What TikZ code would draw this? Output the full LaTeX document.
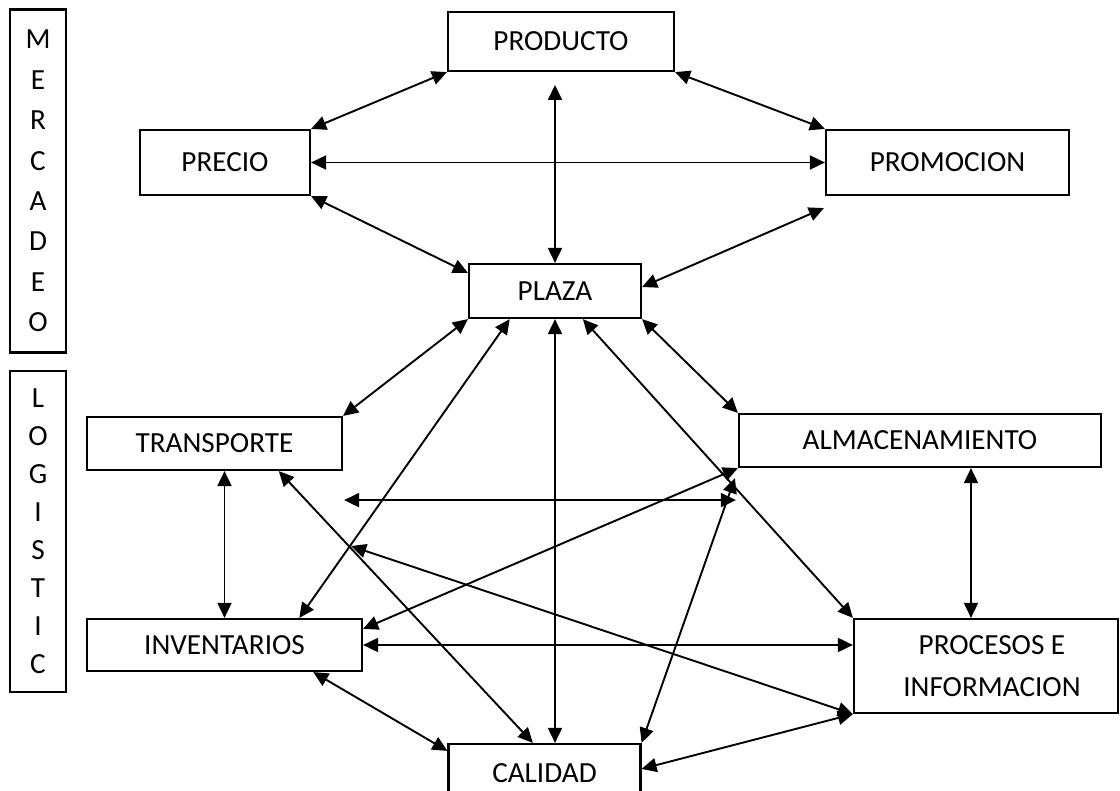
\documentclass[tikz,border=0pt]{standalone}
\usepackage{fontspec}
\setmainfont{Carlito}
\usetikzlibrary{arrows.meta, calc}

\begin{document}
\begin{tikzpicture}[
    x=0.5pt, y=-0.5pt,
    box/.style={rectangle, draw, line width=1.1pt, align=center, inner sep=0pt},
    side/.style={rectangle, draw, line width=1.1pt, align=center, inner sep=0pt, minimum width=28pt},
    arrow/.style={{Triangle[length=7.5pt,width=7pt]}-{Triangle[length=7.5pt,width=7pt]}, line width=0.95pt},
    every node/.style={font=\fontsize{14.6}{17.5}\selectfont}
]
\path[use as bounding box, clip] (0,0) rectangle (1120,791);

% Side labels
\node[side, minimum height=171.5pt, font=\fontsize{14.6}{20.2}\selectfont] (mercadeo) at (38,181) {M\\E\\R\\C\\A\\D\\E\\O};
\node[side, minimum height=160.5pt, font=\fontsize{14.6}{19}\selectfont] (logistic) at (38,531.5) {L\\O\\G\\I\\S\\T\\I\\C};

% Marketing mix
\node[box, minimum width=113pt, minimum height=29.5pt] (producto) at (561,41.5) {PRODUCTO};
\node[box, minimum width=85pt, minimum height=32.5pt] (precio) at (225,162.5) {PRECIO};
\node[box, minimum width=121.5pt, minimum height=32.5pt] (promocion) at (947.5,162.5) {PROMOCION};
\node[box, minimum width=86pt, minimum height=27pt] (plaza) at (555,291) {PLAZA};

% Logistics
\node[box, minimum width=127.5pt, minimum height=26.5pt] (transporte) at (214.5,443.5) {TRANSPORTE};
\node[box, minimum width=181pt, minimum height=26.5pt] (almacen) at (920,440.5) {ALMACENAMIENTO};
\node[box, minimum width=137.5pt, minimum height=26pt] (inventarios) at (224.5,645) {INVENTARIOS};
\node[box, minimum width=132pt, minimum height=47pt, font=\fontsize{14.6}{21}\selectfont, text depth=0pt] (procesos) at (986,666) {\hspace*{6pt}PROCESOS E\\\hspace*{6pt}INFORMACION};
\node[box, minimum width=96pt, minimum height=29pt] (calidad) at (544.5,773) {CALIDAD};

% Free ends
\coordinate (prodtip) at (plaza.north |- 0,85);
\coordinate (promtip) at ($(promocion.south west)+(-1,12)$);
\coordinate (trtip) at ($(transporte.south east)+(1,29)$);
\coordinate (altip) at ($(almacen.south west)+(-2,32)$);
\coordinate (trlow) at ($(transporte.south east)+(8,75)$);
\coordinate (albot) at ($(almacen.south west)!0.64!(almacen.south east)$);

% Marketing links
\draw[arrow] (producto.south west) -- (precio.north east);
\draw[arrow] (producto.south east) -- (promocion.north west);
\draw[arrow] (prodtip) -- (plaza.north);
\draw[arrow] (precio.east) -- (promocion.west);
\draw[arrow] (precio.south east) -- ($(plaza.north west)+(0,10)$);
\draw[arrow] (promtip) -- ($(plaza.east)+(0,-4)$);

% Plaza to logistics
\draw[arrow] (plaza.south west) -- (transporte.north east);
\draw[arrow] ($(plaza.south west)!0.24!(plaza.south east)$) -- ($(inventarios.north west)!0.77!(inventarios.north east)$);
\draw[arrow] (plaza.south) -- (plaza.south |- calidad.north);
\draw[arrow] ($(plaza.south west)!0.66!(plaza.south east)$) -- (procesos.north west);
\draw[arrow] (plaza.south east) -- (almacen.north west);

% Logistics links
\draw[arrow] (transporte.south -| inventarios.north) -- (inventarios.north);
\draw[arrow] ($(transporte.south west)!0.75!(transporte.south east)$) -- ($(calidad.north west)!0.44!(calidad.north east)$);
\draw[arrow] (trtip) -- (altip);
\draw[arrow] (almacen.south west) -- ($(inventarios.north east)+(0,11)$);
\draw[arrow] ($(almacen.south west)+(-3,10)$) -- (calidad.north east);
\draw[arrow] (albot) -- (albot |- procesos.north);
\draw[arrow] (inventarios.east) -- (inventarios.east -| procesos.west);
\draw[arrow] ($(inventarios.south west)!0.82!(inventarios.south east)$) -- ($(calidad.north west)+(0,8)$);
\draw[arrow] ($(calidad.north east)+(0,26)$) -- (procesos.south west);
\draw[arrow] (trlow) -- (procesos.south west);

\end{tikzpicture}
\end{document}
